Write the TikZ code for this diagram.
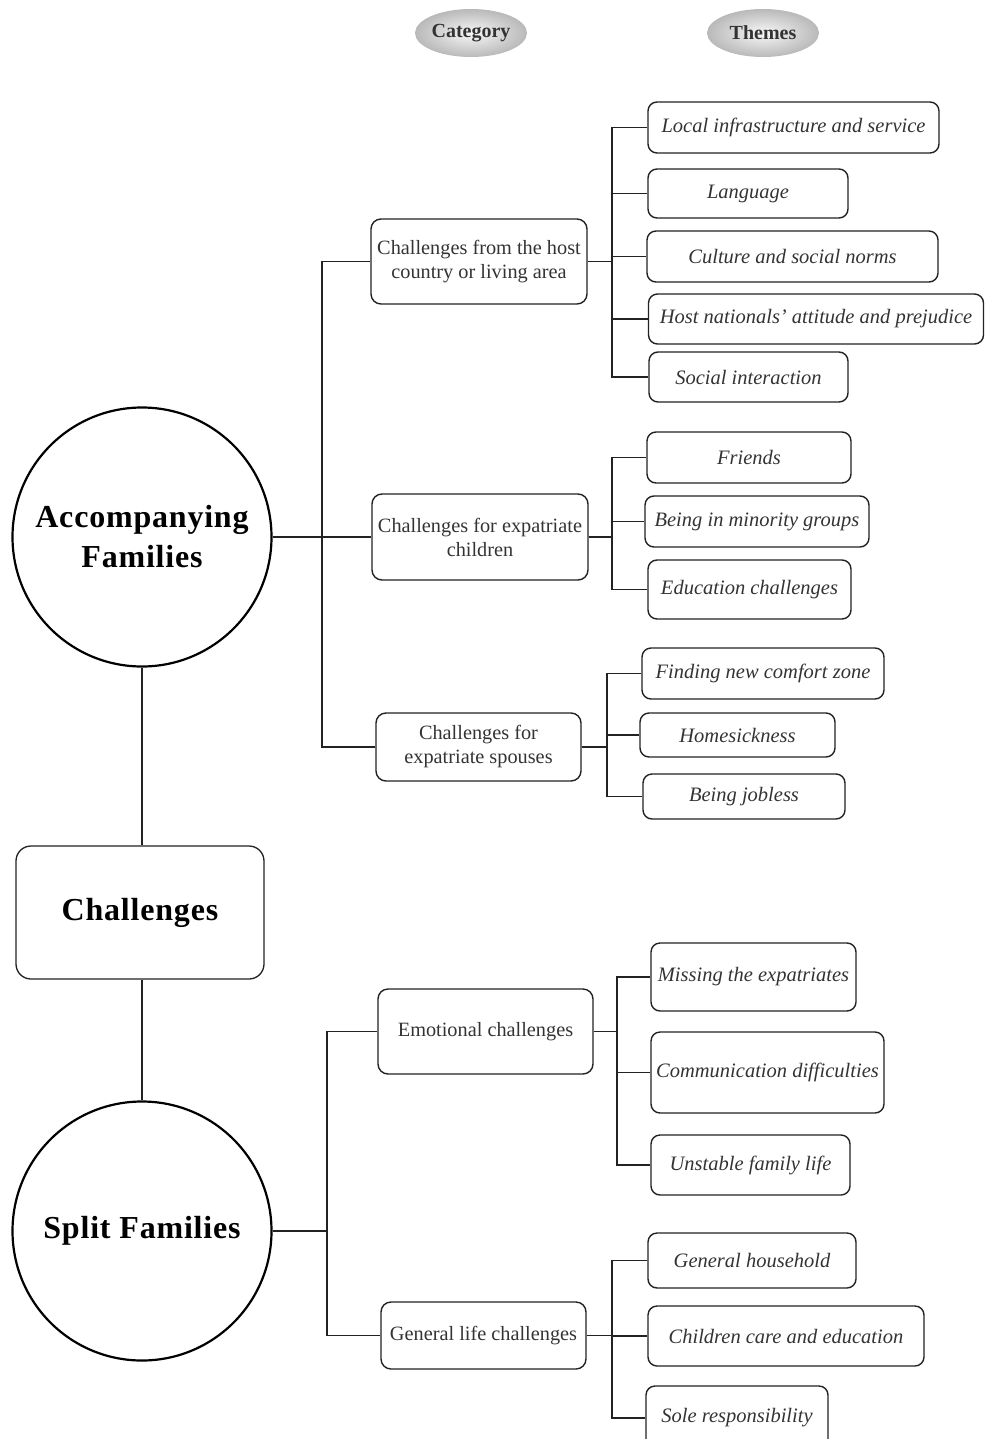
\documentclass[tikz,border=0pt]{standalone}
\usepackage{fontspec}
\setmainfont{Liberation Serif}
\newfontfamily\widebold[LetterSpace=2.5]{Liberation Serif}
\usetikzlibrary{shapes.geometric}
\definecolor{ink}{HTML}{222222}
\definecolor{txt}{HTML}{333333}
\tikzset{
  bigcircle/.style={circle, draw=black, line width=2.2pt, minimum size=259pt, inner sep=0pt,
    font=\widebold\fontsize{32}{40}\selectfont\bfseries, align=center},
  hubbox/.style={rectangle, rounded corners=15pt, draw=ink, line width=1.3pt, inner sep=0pt,
    minimum width=248pt, minimum height=133pt, font=\widebold\fontsize{32}{40}\selectfont\bfseries},
  catbox/.style={rectangle, rounded corners=10pt, draw=ink, line width=1.4pt, inner sep=0pt,
    text=txt, align=center, font=\fontsize{20.3}{24}\selectfont},
  themebox/.style={rectangle, rounded corners=9pt, draw=ink, line width=1.4pt, inner sep=0pt,
    text=txt, align=center, font=\fontsize{20.5}{24}\selectfont\itshape},
  header/.style={ellipse, draw=none, inner sep=0pt, minimum width=112pt, minimum height=48pt,
    inner color=gray!6, outer color=gray!55, text=txt, font=\fontsize{20}{24}\selectfont\bfseries},
  link/.style={draw=ink, line width=1.3pt}
}
\begin{document}
\begin{tikzpicture}[x=1pt,y=-1pt]
\useasboundingbox (0,0) rectangle (985,1439);
\clip (0,0) rectangle (985,1439);

% column headers
\node[header] (hcat) at (471,33) {Category};
\node[header] (hthm) at (763,33) {Themes};

% left column: the two family types and the hub
\node[bigcircle] (acc) at (142,537) {Accompanying\\Families};
\node[hubbox] (hub) at (140,912.5) {\raisebox{-4pt}{Challenges}};
\node[bigcircle] (split) at (142,1231) {Split Families};

% categories
\node[catbox, minimum width=216pt, minimum height=85pt] (c1) at (479,261.5) {Challenges from the host\\country or living area};
\node[catbox, minimum width=216pt, minimum height=86pt] (c2) at (480,537) {Challenges for expatriate\\children};
\node[catbox, minimum width=205pt, minimum height=68pt] (c3) at (478.5,747) {Challenges for\\expatriate spouses};
\node[catbox, minimum width=215pt, minimum height=85pt] (c4) at (485.5,1031.5) {Emotional challenges};
\node[catbox, minimum width=205pt, minimum height=67pt] (c5) at (483.5,1335.5) {General life challenges};

% themes
\node[themebox, minimum width=291pt, minimum height=51pt] (t1) at (793.5,127.5) {Local infrastructure and service};
\node[themebox, minimum width=200pt, minimum height=49pt] (t2) at (748,193.5) {Language};
\node[themebox, minimum width=291pt, minimum height=51pt] (t3) at (792.5,256.5) {Culture and social norms};
\node[themebox, minimum width=335pt, minimum height=50pt] (t4) at (816,319) {Host nationals' attitude and prejudice};
\node[themebox, minimum width=199pt, minimum height=50pt] (t5) at (748.5,377) {Social interaction};

\node[themebox, minimum width=204pt, minimum height=51pt] (t6) at (749,457.5) {Friends};
\node[themebox, minimum width=224pt, minimum height=51pt] (t7) at (757,521.5) {Being in minority groups};
\node[themebox, minimum width=203pt, minimum height=59pt] (t8) at (749.5,589.5) {Education challenges};

\node[themebox, minimum width=242pt, minimum height=51pt] (t9) at (763,673.5) {Finding new comfort zone};
\node[themebox, minimum width=195pt, minimum height=44pt] (t10) at (737.5,735) {Homesickness};
\node[themebox, minimum width=202pt, minimum height=45pt] (t11) at (744,796.5) {Being jobless};

\node[themebox, minimum width=205pt, minimum height=68pt] (t12) at (753.5,977) {Missing the expatriates};
\node[themebox, minimum width=233pt, minimum height=81pt] (t13) at (767.5,1072.5) {Communication difficulties};
\node[themebox, minimum width=199pt, minimum height=60pt] (t14) at (750.5,1165) {Unstable family life};

\node[themebox, minimum width=208pt, minimum height=55pt] (t15) at (752,1260.5) {General household};
\node[themebox, minimum width=276pt, minimum height=60pt] (t16) at (786,1336) {Children care and education};
\node[themebox, minimum width=182pt, minimum height=64pt] (t17) at (737,1418) {Sole responsibility};

% trunk positions of the elbow connectors
\coordinate (ka) at (322,0);
\coordinate (ks) at (327,0);
\coordinate (k1) at (612,0);
\coordinate (k2) at (612,0);
\coordinate (k3) at (607,0);
\coordinate (k4) at (617,0);
\coordinate (k5) at (612,0);

% left column links
\draw[link] (acc.south) -- (acc.south |- hub.north);
\draw[link] (split.north |- hub.south) -- (split.north);

% family -> category
\draw[link] (acc.east) -- (ka |- acc.east) |- (c1.west);
\draw[link] (acc.east) -- (c2.west);
\draw[link] (acc.east) -- (ka |- acc.east) |- (c3.west);
\draw[link] (split.east) -- (ks |- split.east) |- (c4.west);
\draw[link] (split.east) -- (ks |- split.east) |- (c5.west);

% category -> themes
\foreach \t in {t1,t2,t3,t4,t5}
  \draw[link] (c1.east) -- (k1 |- c1.east) |- (\t.west);
\foreach \t in {t6,t7,t8}
  \draw[link] (c2.east) -- (k2 |- c2.east) |- (\t.west);
\foreach \t in {t9,t10,t11}
  \draw[link] (c3.east) -- (k3 |- c3.east) |- (\t.west);
\foreach \t in {t12,t13,t14}
  \draw[link] (c4.east) -- (k4 |- c4.east) |- (\t.west);
\foreach \t in {t15,t16,t17}
  \draw[link] (c5.east) -- (k5 |- c5.east) |- (\t.west);
\end{tikzpicture}
\end{document}
